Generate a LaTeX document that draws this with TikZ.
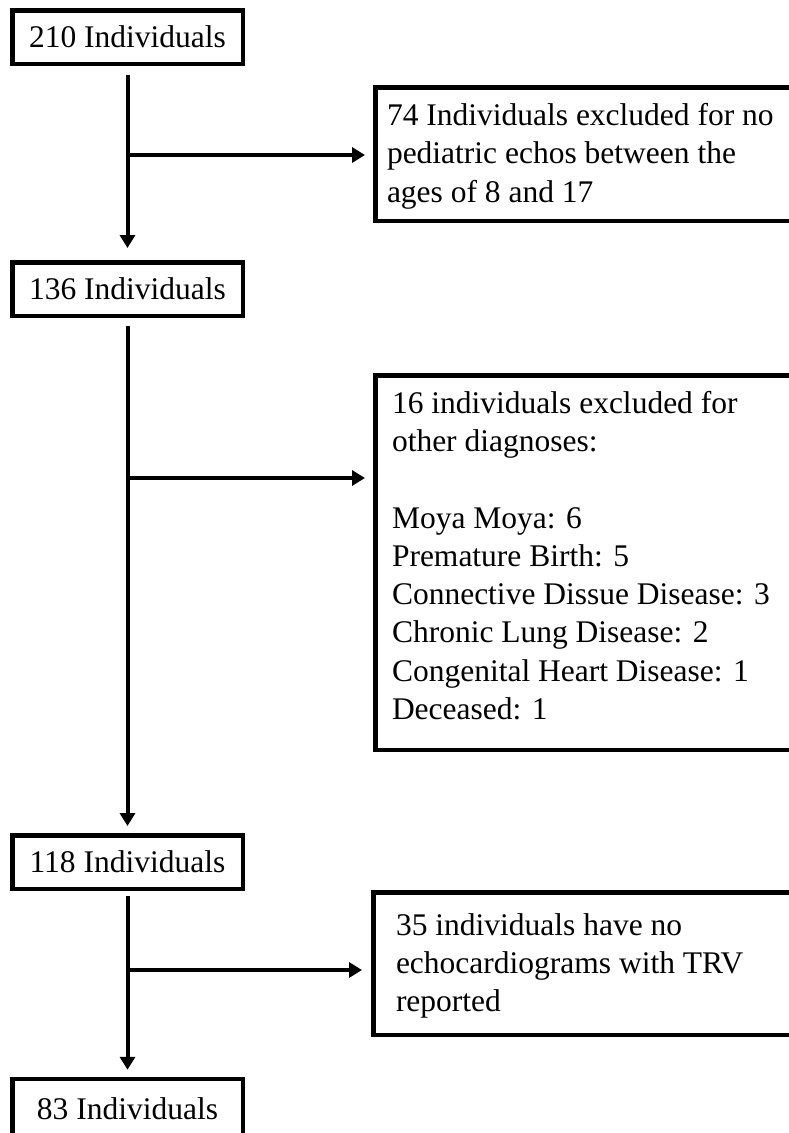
\documentclass[tikz,border=0pt]{standalone}
\usepackage{fontspec}
\setmainfont{Liberation Serif}
\usetikzlibrary{arrows.meta,calc}
\begin{document}
\begin{tikzpicture}[x=1pt,y=-1pt,
  box/.style={draw, line width=4.5pt, inner sep=0pt, font=\fontsize{31.5}{38.3}\selectfont},
  small/.style={box, minimum width=230.5pt, minimum height=53.5pt},
  big/.style={box, anchor=north west, inner ysep=0pt},
  arr/.style={line width=4pt, -{Triangle[length=13pt,width=15pt]}}]
\useasboundingbox (0,0) rectangle (788,1133);
\fill[white] (0,0) rectangle (788,1133);

\node[small] (b210) at (127.5,37) {210 Individuals};
\node[small] (b136) at (127.5,289) {136 Individuals};
\node[small] (b118) at (127.5,862) {118 Individuals};
\node[small, minimum height=60pt] (b83) at (127.5,1109) {83 Individuals};

\node[big, inner xsep=11.75pt, inner ysep=16.25pt] (b74) at (373,85)
  {\parbox[c][101pt][t]{420pt}{\raggedright 74 Individuals excluded for no\\pediatric echos between the\\ages of 8 and 17}};
\node[big, inner xsep=16.75pt, inner ysep=15.75pt] (b16) at (373,373)
  {\parbox[c][343pt][t]{420pt}{\raggedright 16 individuals excluded for\\other diagnoses:\\[38.3pt]Moya Moya: 6\\Premature Birth: 5\\Connective Dissue Disease: 3\\Chronic Lung Disease: 2\\Congenital Heart Disease: 1\\Deceased: 1}};
\node[big, inner xsep=22.75pt, inner ysep=21.25pt] (b35) at (371,890)
  {\parbox[c][100pt][t]{420pt}{\raggedright 35 individuals have no\\echocardiograms with TRV\\reported}};

\coordinate (j1) at (127.5,155);
\coordinate (j2) at (127.5,478);
\coordinate (j3) at (127.5,970);

\draw[arr, shorten <=9pt, shorten >=12pt] (b210.south) -- (b136.north);
\draw[arr, shorten >=8pt] (j1) -- (j1 -| b74.west);
\draw[arr, shorten <=8pt, shorten >=7pt] (b136.south) -- (b118.north);
\draw[arr, shorten >=8pt] (j2) -- (j2 -| b16.west);
\draw[arr, shorten <=5pt, shorten >=7pt] (b118.south) -- (b83.north);
\draw[arr, shorten >=9pt] (j3) -- (j3 -| b35.west);
\end{tikzpicture}
\end{document}
